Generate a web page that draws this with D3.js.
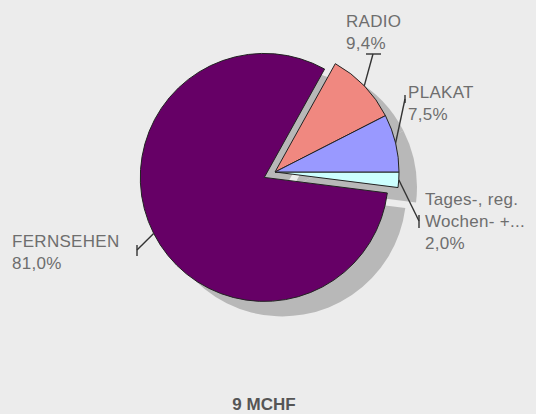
<!DOCTYPE html>
<html>
<head>
<meta charset="utf-8">
<script src="https://cdn.jsdelivr.net/npm/d3@7"></script>
<style>
  html, body { margin: 0; padding: 0; background: #ececec; }
  svg { display: block; font-family: "Liberation Sans", Arial, sans-serif; }
</style>
</head>
<body>
<svg id="chart"></svg>
<script>
const width = 536;
const height = 414;

// data, clockwise from 3 o'clock
const categories = ["Tages-, reg. Wochen- +...", "FERNSEHEN", "RADIO", "PLAKAT"];
const labelLines = [["Tages-, reg.", "Wochen- +..."], ["FERNSEHEN"], ["RADIO"], ["PLAKAT"]];
const values = [2.0, 81.0, 9.4, 7.5];
const valueLabels = ["2,0%", "81,0%", "9,4%", "7,5%"];
const colors = ["#ccffff", "#660066", "#f08880", "#9999ff"];
const exploded = [0, 12, 0, 0];
const title = "9 MCHF";

// label placement (first baseline, leader end, small tick)
const labelPos = [
    {x: 425, y: 205, end: [419, 221], tick: [[419, 215], [419, 228]]},
    {x: 12, y: 247, end: [137, 250], tick: [[137, 245], [137, 256]]},
    {x: 346, y: 27, end: [373, 54], tick: [[366, 54], [381, 54]]},
    {x: 408, y: 98, end: [405, 99], tick: [[405, 95], [405, 103]]}
];

const cx = 275, cy = 172, radius = 124;
const shadowDx = 18, shadowDy = 15;

const svg = d3.select("#chart")
    .attr("width", width)
    .attr("height", height);

const pie = d3.pie()
    .sort(null)
    .startAngle(Math.PI / 2)
    .endAngle(Math.PI / 2 + 2 * Math.PI);

const arcs = pie(values);
const arc = d3.arc().innerRadius(0).outerRadius(radius);
const anchorArc = d3.arc().innerRadius(radius).outerRadius(radius);

function offset(d, i) {
    const mid = (d.startAngle + d.endAngle) / 2;
    return [Math.sin(mid) * exploded[i], -Math.cos(mid) * exploded[i]];
}

const root = svg.append("g").attr("transform", `translate(${cx},${cy})`);

// shadow
root.append("g")
    .selectAll("path")
    .data(arcs)
    .join("path")
    .attr("transform", (d, i) => {
        const o = offset(d, i);
        return `translate(${o[0] + shadowDx},${o[1] + shadowDy})`;
    })
    .attr("d", arc)
    .attr("fill", "#b8b8b8");

// slices
root.append("g")
    .selectAll("path")
    .data(arcs)
    .join("path")
    .attr("transform", (d, i) => {
        const o = offset(d, i);
        return `translate(${o[0]},${o[1]})`;
    })
    .attr("d", arc)
    .attr("fill", (d, i) => colors[i])
    .attr("stroke", "#222")
    .attr("stroke-width", 1)
    .attr("stroke-linejoin", "miter");

// leader lines
const leaders = svg.append("g")
    .attr("stroke", "#333")
    .attr("stroke-width", 1.4)
    .attr("fill", "none");

arcs.forEach((d, i) => {
    const o = offset(d, i);
    const a = anchorArc.centroid(d);
    const p = labelPos[i];
    leaders.append("line")
        .attr("x1", cx + a[0] + o[0])
        .attr("y1", cy + a[1] + o[1])
        .attr("x2", p.end[0])
        .attr("y2", p.end[1]);
    leaders.append("line")
        .attr("x1", p.tick[0][0])
        .attr("y1", p.tick[0][1])
        .attr("x2", p.tick[1][0])
        .attr("y2", p.tick[1][1]);
});

// labels
const lineHeight = 22;
arcs.forEach((d, i) => {
    const p = labelPos[i];
    const lines = labelLines[i].concat([valueLabels[i]]);
    const t = svg.append("text")
        .attr("x", p.x)
        .attr("y", p.y)
        .attr("fill", "#6e6e6e")
        .attr("font-size", 17)
        .attr("letter-spacing", 0.3);
    lines.forEach((s, k) => {
        t.append("tspan")
            .attr("x", p.x)
            .attr("dy", k === 0 ? 0 : lineHeight)
            .text(s);
    });
});

// title
svg.append("text")
    .attr("x", 264)
    .attr("y", 410)
    .attr("text-anchor", "middle")
    .attr("font-size", 17)
    .attr("font-weight", "bold")
    .attr("fill", "#555")
    .text(title);
</script>
</body>
</html>
